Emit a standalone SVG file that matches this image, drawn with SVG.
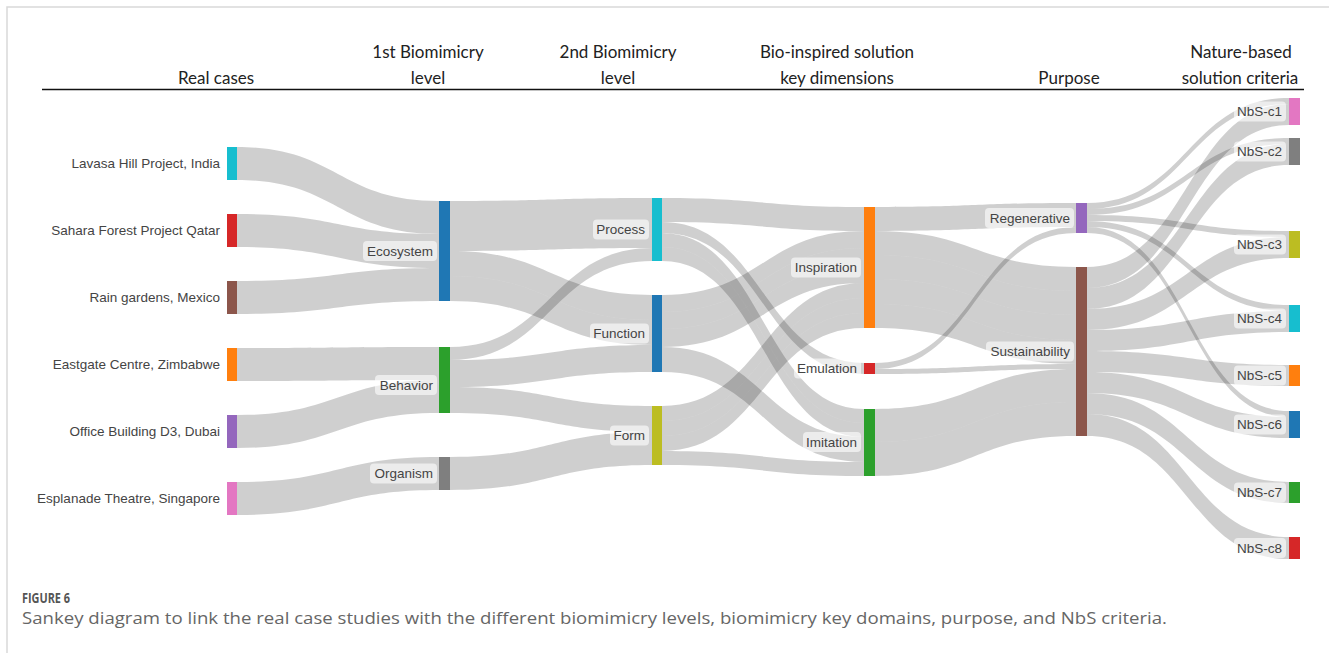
<svg xmlns="http://www.w3.org/2000/svg" width="1329" height="653" viewBox="0 0 1329 653">
  <style>
    .lk { fill: #000; fill-opacity: 0.19; }
    .nd { stroke: none; }
    .lbl { font-family: "Liberation Sans", Arial, sans-serif; font-size: 13.5px; fill: #444; text-anchor: end; }
    .lbg { fill: #fff; fill-opacity: 0.6; }
    .hdr { font-family: Lato, "Liberation Sans", sans-serif; font-size: 17px; fill: #222; text-anchor: middle; }
    .frame { stroke: #d9d9d9; stroke-width: 1.5; fill: none; }
  </style>

  <rect x="0" y="0" width="1329" height="653" fill="#fff"/>
  <path class="frame" d="M1329,7 H7 V653"/>

  <!-- column headings -->
  <g id="headers">
    <text class="hdr" x="216" y="84">Real cases</text>
    <text class="hdr" x="428" y="58">1st Biomimicry</text>
    <text class="hdr" x="428" y="84">level</text>
    <text class="hdr" x="618" y="58">2nd Biomimicry</text>
    <text class="hdr" x="618" y="84">level</text>
    <text class="hdr" x="837" y="58">Bio-inspired solution</text>
    <text class="hdr" x="837" y="84">key dimensions</text>
    <text class="hdr" x="1069" y="84">Purpose</text>
    <text class="hdr" x="1241" y="58">Nature-based</text>
    <text class="hdr" x="1240" y="84">solution criteria</text>
    <line x1="42" y1="89.5" x2="1304" y2="89.5" stroke="#111" stroke-width="1.5"/>
  </g>

  <!-- flows between stages -->
  <g id="links">
    <!-- real cases -> 1st level -->
    <path class="lk" d="M237,147 C338,147 338,201 439,201 L439,234 C338,234 338,180 237,180 Z"/>
    <path class="lk" d="M237,214 C338,214 338,234 439,234 L439,268 C338,268 338,247 237,247 Z"/>
    <path class="lk" d="M237,281 C338,281 338,268 439,268 L439,301 C338,301 338,314 237,314 Z"/>
    <path class="lk" d="M237,348 C338,348 338,347 439,347 L439,380 C338,380 338,381 237,381 Z"/>
    <path class="lk" d="M237,415 C338,415 338,380 439,380 L439,413 C338,413 338,448 237,448 Z"/>
    <path class="lk" d="M237,482 C338,482 338,457 439,457 L439,490 C338,490 338,515 237,515 Z"/>
    <!-- 1st level -> 2nd level -->
    <path class="lk" d="M450,201 C551,201 551,198 652,198 L652,248 C551,248 551,251 450,251 Z"/>
    <path class="lk" d="M450,251 C551,251 551,295 652,295 L652,320 C551,320 551,276 450,276 Z"/>
    <path class="lk" d="M450,276 C551,276 551,320 652,320 L652,345 C551,345 551,301 450,301 Z"/>
    <path class="lk" d="M450,347 C551,347 551,248 652,248 L652,261 C551,261 551,360 450,360 Z"/>
    <path class="lk" d="M450,360 C551,360 551,345 652,345 L652,372 C551,372 551,387 450,387 Z"/>
    <path class="lk" d="M450,387 C551,387 551,406 652,406 L652,432 C551,432 551,413 450,413 Z"/>
    <path class="lk" d="M450,457 C551,457 551,432 652,432 L652,465 C551,465 551,490 450,490 Z"/>
    <!-- 2nd level -> key dimensions -->
    <path class="lk" d="M662,198 C763,198 763,207 864,207 L864,231 C763,231 763,222 662,222 Z"/>
    <path class="lk" d="M662,222 C763,222 763,363 864,363 L864,374 C763,374 763,233 662,233 Z"/>
    <path class="lk" d="M662,233 C763,233 763,409 864,409 L864,423 C763,423 763,247 662,247 Z"/>
    <path class="lk" d="M662,247 C763,247 763,423 864,423 L864,437 C763,437 763,261 662,261 Z"/>
    <path class="lk" d="M662,295 C763,295 763,231 864,231 L864,248 C763,248 763,312 662,312 Z"/>
    <path class="lk" d="M662,312 C763,312 763,248 864,248 L864,265 C763,265 763,329 662,329 Z"/>
    <path class="lk" d="M662,329 C763,329 763,265 864,265 L864,283 C763,283 763,347 662,347 Z"/>
    <path class="lk" d="M662,347 C763,347 763,437 864,437 L864,462 C763,462 763,372 662,372 Z"/>
    <path class="lk" d="M662,406 C763,406 763,283 864,283 L864,298 C763,298 763,421 662,421 Z"/>
    <path class="lk" d="M662,421 C763,421 763,298 864,298 L864,313 C763,313 763,436 662,436 Z"/>
    <path class="lk" d="M662,436 C763,436 763,313 864,313 L864,328 C763,328 763,451 662,451 Z"/>
    <path class="lk" d="M662,451 C763,451 763,462 864,462 L864,476 C763,476 763,465 662,465 Z"/>
    <!-- key dimensions -> purpose -->
    <path class="lk" d="M875,207 C975.5,207 975.5,203 1076,203 L1076,227 C975.5,227 975.5,231 875,231 Z"/>
    <path class="lk" d="M875,231 C975.5,231 975.5,267 1076,267 L1076,291 C975.5,291 975.5,255 875,255 Z"/>
    <path class="lk" d="M875,255 C975.5,255 975.5,291 1076,291 L1076,315 C975.5,315 975.5,279 875,279 Z"/>
    <path class="lk" d="M875,279 C975.5,279 975.5,315 1076,315 L1076,340 C975.5,340 975.5,304 875,304 Z"/>
    <path class="lk" d="M875,304 C975.5,304 975.5,340 1076,340 L1076,364 C975.5,364 975.5,328 875,328 Z"/>
    <path class="lk" d="M875,363 C975.5,363 975.5,227 1076,227 L1076,233 C975.5,233 975.5,369 875,369 Z"/>
    <path class="lk" d="M875,369 C975.5,369 975.5,364 1076,364 L1076,369 C975.5,369 975.5,374 875,374 Z"/>
    <path class="lk" d="M875,409 C975.5,409 975.5,369 1076,369 L1076,402 C975.5,402 975.5,442 875,442 Z"/>
    <path class="lk" d="M875,442 C975.5,442 975.5,402 1076,402 L1076,436 C975.5,436 975.5,476 875,476 Z"/>
    <!-- purpose -> NbS criteria -->
    <path class="lk" d="M1087,203 C1188,203 1188,98 1289,98 L1289,104 C1188,104 1188,209 1087,209 Z"/>
    <path class="lk" d="M1087,209 C1188,209 1188,138 1289,138 L1289,144 C1188,144 1188,215 1087,215 Z"/>
    <path class="lk" d="M1087,215 C1188,215 1188,231 1289,231 L1289,237 C1188,237 1188,221 1087,221 Z"/>
    <path class="lk" d="M1087,221 C1188,221 1188,305 1289,305 L1289,311 C1188,311 1188,227 1087,227 Z"/>
    <path class="lk" d="M1087,227 C1188,227 1188,411 1289,411 L1289,417 C1188,417 1188,233 1087,233 Z"/>
    <path class="lk" d="M1087,267 C1188,267 1188,104 1289,104 L1289,125 C1188,125 1188,288 1087,288 Z"/>
    <path class="lk" d="M1087,288 C1188,288 1188,144 1289,144 L1289,165 C1188,165 1188,309 1087,309 Z"/>
    <path class="lk" d="M1087,309 C1188,309 1188,237 1289,237 L1289,258 C1188,258 1188,330 1087,330 Z"/>
    <path class="lk" d="M1087,330 C1188,330 1188,311 1289,311 L1289,332 C1188,332 1188,351 1087,351 Z"/>
    <path class="lk" d="M1087,351 C1188,351 1188,365 1289,365 L1289,386 C1188,386 1188,372 1087,372 Z"/>
    <path class="lk" d="M1087,372 C1188,372 1188,417 1289,417 L1289,438 C1188,438 1188,393 1087,393 Z"/>
    <path class="lk" d="M1087,393 C1188,393 1188,482 1289,482 L1289,503 C1188,503 1188,414 1087,414 Z"/>
    <path class="lk" d="M1087,414 C1188,414 1188,537 1289,537 L1289,559 C1188,559 1188,436 1087,436 Z"/>
  </g>

  <!-- real cases -->
  <g id="lavasa"><rect class="nd" x="227" y="147" width="10" height="33" fill="#17becf"/><text class="lbl" x="220" y="163.5" dy="0.35em">Lavasa Hill Project, India</text></g>
  <g id="sahara"><rect class="nd" x="227" y="214" width="10" height="33" fill="#d62728"/><text class="lbl" x="220" y="230.5" dy="0.35em">Sahara Forest Project Qatar</text></g>
  <g id="rain-gardens"><rect class="nd" x="227" y="281" width="10" height="33" fill="#8c564b"/><text class="lbl" x="220" y="297.5" dy="0.35em">Rain gardens, Mexico</text></g>
  <g id="eastgate"><rect class="nd" x="227" y="348" width="10" height="33" fill="#ff7f0e"/><text class="lbl" x="220" y="364.5" dy="0.35em">Eastgate Centre, Zimbabwe</text></g>
  <g id="office-d3"><rect class="nd" x="227" y="415" width="10" height="33" fill="#9467bd"/><text class="lbl" x="220" y="431.5" dy="0.35em">Office Building D3, Dubai</text></g>
  <g id="esplanade"><rect class="nd" x="227" y="482" width="10" height="33" fill="#e377c2"/><text class="lbl" x="220" y="498.5" dy="0.35em">Esplanade Theatre, Singapore</text></g>

  <!-- 1st biomimicry level -->
  <g id="ecosystem"><rect class="nd" x="439" y="201" width="11" height="100" fill="#1f77b4"/><rect class="lbg" x="363" y="241" width="74" height="20" rx="4"/><text class="lbl" x="433" y="251" dy="0.35em">Ecosystem</text></g>
  <g id="behavior"><rect class="nd" x="439" y="347" width="11" height="66" fill="#2ca02c"/><rect class="lbg" x="375" y="375" width="62" height="20" rx="4"/><text class="lbl" x="433" y="385" dy="0.35em">Behavior</text></g>
  <g id="organism"><rect class="nd" x="439" y="457" width="11" height="33" fill="#7f7f7f"/><rect class="lbg" x="370" y="463.5" width="67" height="20" rx="4"/><text class="lbl" x="433" y="473.5" dy="0.35em">Organism</text></g>

  <!-- 2nd biomimicry level -->
  <g id="process"><rect class="nd" x="652" y="198" width="10" height="63" fill="#17becf"/><rect class="lbg" x="593" y="219.5" width="56" height="20" rx="4"/><text class="lbl" x="645" y="229.5" dy="0.35em">Process</text></g>
  <g id="function"><rect class="nd" x="652" y="295" width="10" height="77" fill="#1f77b4"/><rect class="lbg" x="590" y="323.5" width="59" height="20" rx="4"/><text class="lbl" x="645" y="333.5" dy="0.35em">Function</text></g>
  <g id="form"><rect class="nd" x="652" y="406" width="10" height="59" fill="#bcbd22"/><rect class="lbg" x="610" y="425.5" width="39" height="20" rx="4"/><text class="lbl" x="645" y="435.5" dy="0.35em">Form</text></g>

  <!-- key dimensions -->
  <g id="inspiration"><rect class="nd" x="864" y="207" width="11" height="121" fill="#ff7f0e"/><rect class="lbg" x="791" y="257.5" width="70" height="20" rx="4"/><text class="lbl" x="857" y="267.5" dy="0.35em">Inspiration</text></g>
  <g id="emulation"><rect class="nd" x="864" y="363" width="11" height="11" fill="#d62728"/><rect class="lbg" x="794" y="358.5" width="67" height="20" rx="4"/><text class="lbl" x="857" y="368.5" dy="0.35em">Emulation</text></g>
  <g id="imitation"><rect class="nd" x="864" y="409" width="11" height="67" fill="#2ca02c"/><rect class="lbg" x="803" y="432" width="58" height="20" rx="4"/><text class="lbl" x="857" y="442" dy="0.35em">Imitation</text></g>

  <!-- purpose -->
  <g id="regenerative"><rect class="nd" x="1076" y="203" width="11" height="30" fill="#9467bd"/><rect class="lbg" x="985" y="208" width="89" height="20" rx="4"/><text class="lbl" x="1070" y="218" dy="0.35em">Regenerative</text></g>
  <g id="sustainability"><rect class="nd" x="1076" y="267" width="11" height="169" fill="#8c564b"/><rect class="lbg" x="986" y="341.5" width="88" height="20" rx="4"/><text class="lbl" x="1070" y="351.5" dy="0.35em">Sustainability</text></g>

  <!-- NbS criteria -->
  <g id="nbs-c1"><rect class="nd" x="1289" y="98" width="11" height="27" fill="#e377c2"/><rect class="lbg" x="1234" y="101.5" width="52" height="20" rx="4"/><text class="lbl" x="1282" y="111.5" dy="0.35em">NbS-c1</text></g>
  <g id="nbs-c2"><rect class="nd" x="1289" y="138" width="11" height="27" fill="#7f7f7f"/><rect class="lbg" x="1234" y="141.5" width="52" height="20" rx="4"/><text class="lbl" x="1282" y="151.5" dy="0.35em">NbS-c2</text></g>
  <g id="nbs-c3"><rect class="nd" x="1289" y="231" width="11" height="27" fill="#bcbd22"/><rect class="lbg" x="1234" y="234.5" width="52" height="20" rx="4"/><text class="lbl" x="1282" y="244.5" dy="0.35em">NbS-c3</text></g>
  <g id="nbs-c4"><rect class="nd" x="1289" y="305" width="11" height="27" fill="#17becf"/><rect class="lbg" x="1234" y="308.5" width="52" height="20" rx="4"/><text class="lbl" x="1282" y="318.5" dy="0.35em">NbS-c4</text></g>
  <g id="nbs-c5"><rect class="nd" x="1289" y="365" width="11" height="21" fill="#ff7f0e"/><rect class="lbg" x="1234" y="365.5" width="52" height="20" rx="4"/><text class="lbl" x="1282" y="375.5" dy="0.35em">NbS-c5</text></g>
  <g id="nbs-c6"><rect class="nd" x="1289" y="411" width="11" height="27" fill="#1f77b4"/><rect class="lbg" x="1234" y="414.5" width="52" height="20" rx="4"/><text class="lbl" x="1282" y="424.5" dy="0.35em">NbS-c6</text></g>
  <g id="nbs-c7"><rect class="nd" x="1289" y="482" width="11" height="21" fill="#2ca02c"/><rect class="lbg" x="1234" y="482.5" width="52" height="20" rx="4"/><text class="lbl" x="1282" y="492.5" dy="0.35em">NbS-c7</text></g>
  <g id="nbs-c8"><rect class="nd" x="1289" y="537" width="11" height="22" fill="#d62728"/><rect class="lbg" x="1234" y="538" width="52" height="20" rx="4"/><text class="lbl" x="1282" y="548" dy="0.35em">NbS-c8</text></g>

  <!-- caption -->
  <g id="caption">
    <text x="22" y="603" font-family="'Open Sans', 'Liberation Sans', sans-serif" font-size="15" font-weight="bold" fill="#555" textLength="48" lengthAdjust="spacingAndGlyphs">FIGURE 6</text>
    <text x="22" y="624" font-family="'Open Sans', 'Liberation Sans', sans-serif" font-size="15.5" fill="#666" textLength="1145" lengthAdjust="spacingAndGlyphs">Sankey diagram to link the real case studies with the different biomimicry levels, biomimicry key domains, purpose, and NbS criteria.</text>
  </g>
</svg>
